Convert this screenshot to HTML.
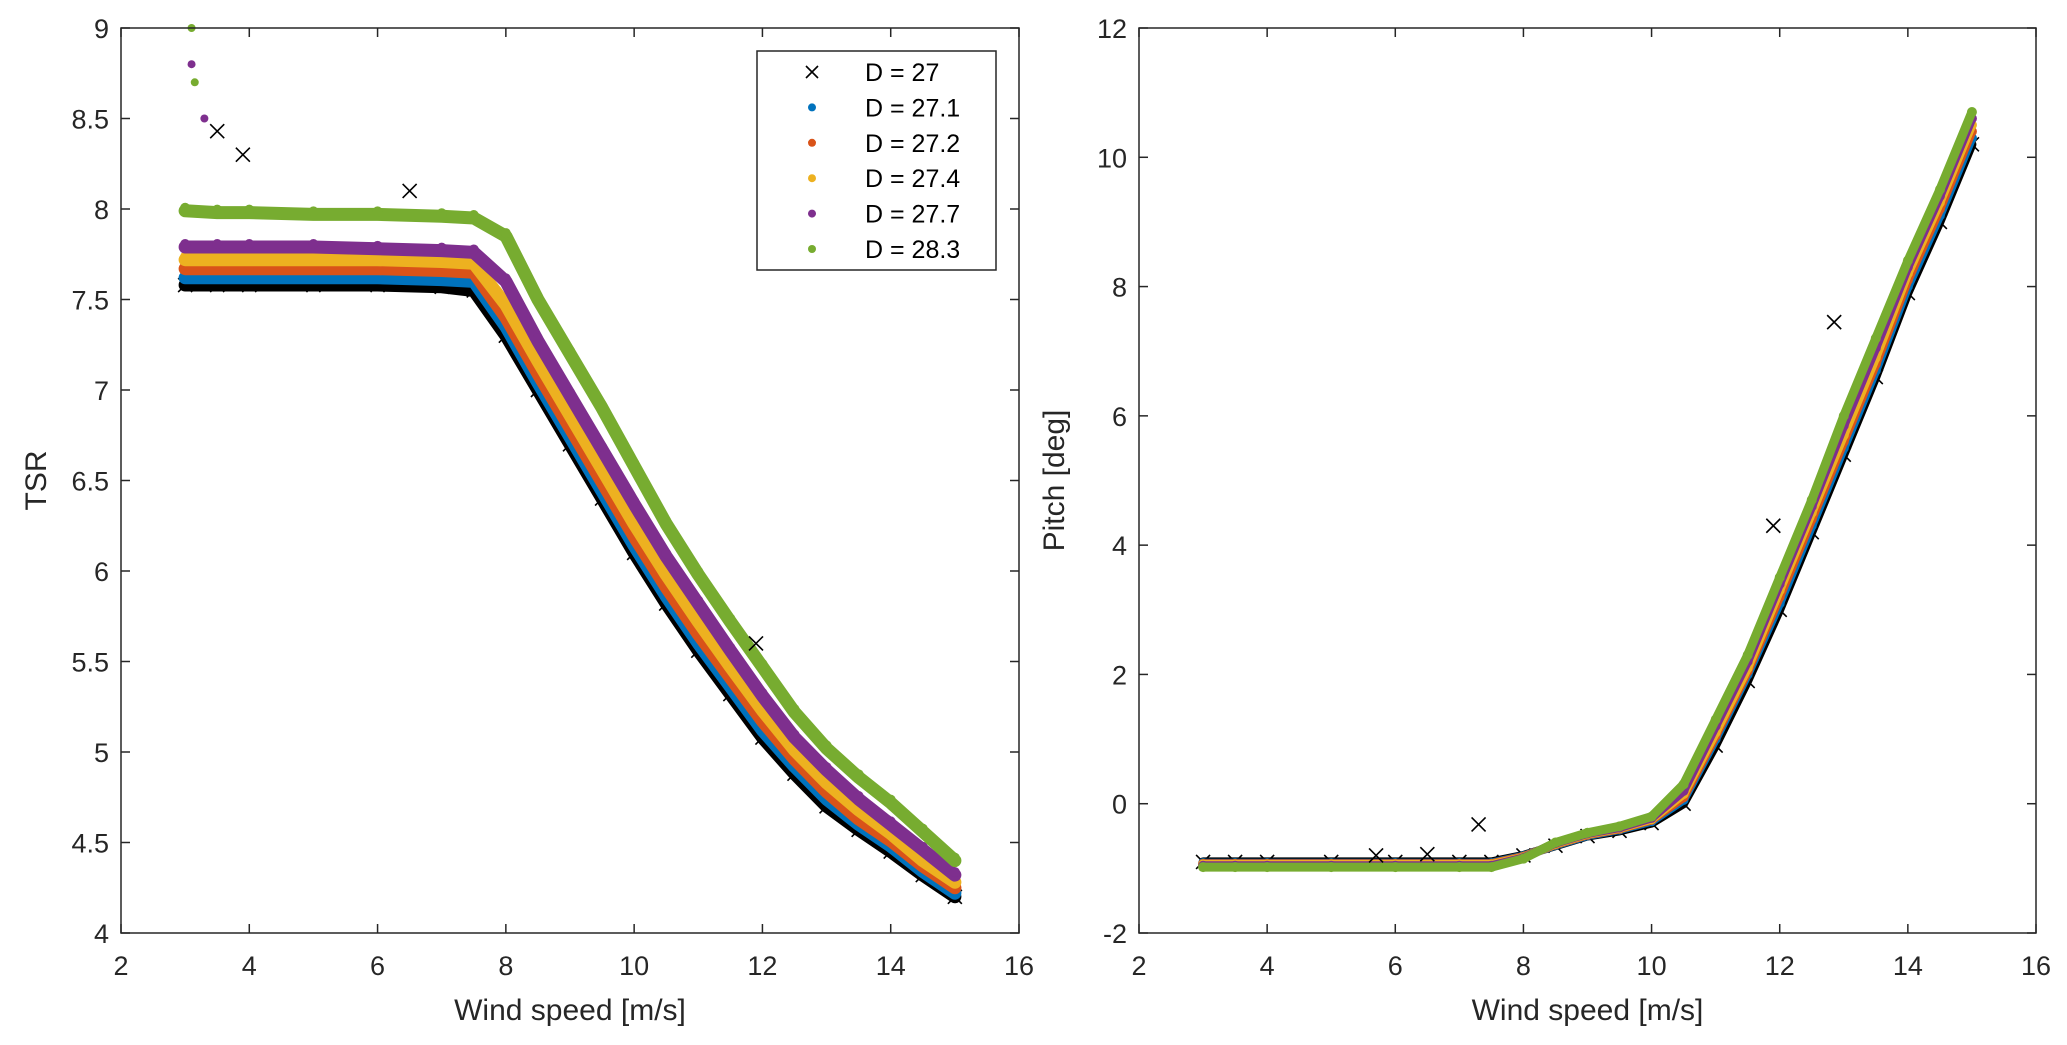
<!DOCTYPE html>
<html><head><meta charset="utf-8"><style>
body{margin:0;background:#fff;}
svg{display:block;font-family:"Liberation Sans",sans-serif;}
</style></head><body>
<svg id="fig" width="2067" height="1045" xmlns="http://www.w3.org/2000/svg"></svg>
<script>
const windGrid=[3,3.5,4,5,6,7,7.5,8,8.5,9,9.5,10,10.5,11,11.5,12,12.5,13,13.5,14,14.5,15];
const seriesNames=["D = 27","D = 27.1","D = 27.2","D = 27.4","D = 27.7","D = 28.3"];
const seriesColors=["#000000","#0072BD","#D95319","#EDB120","#7E2F8E","#77AC30"];
const tsr27=[7.58,7.58,7.58,7.58,7.58,7.57,7.55,7.3,7.0,6.7,6.4,6.1,5.82,5.56,5.32,5.08,4.88,4.7,4.57,4.45,4.32,4.2];
const tsr271=[7.62,7.62,7.62,7.62,7.62,7.61,7.6,7.35,7.04,6.74,6.44,6.14,5.86,5.6,5.36,5.12,4.92,4.74,4.6,4.48,4.34,4.22];
const tsr272=[7.67,7.67,7.67,7.67,7.67,7.66,7.65,7.4,7.09,6.79,6.49,6.19,5.91,5.65,5.41,5.17,4.96,4.78,4.63,4.51,4.37,4.25];
const tsr274=[7.72,7.72,7.72,7.72,7.72,7.71,7.7,7.47,7.16,6.86,6.56,6.26,5.98,5.72,5.47,5.23,5.01,4.83,4.68,4.55,4.4,4.28];
const tsr277=[7.79,7.79,7.79,7.79,7.78,7.77,7.76,7.6,7.27,6.97,6.67,6.37,6.08,5.82,5.56,5.31,5.08,4.9,4.74,4.6,4.46,4.32];
const tsr283=[7.99,7.98,7.98,7.97,7.97,7.96,7.95,7.85,7.5,7.2,6.9,6.58,6.26,5.98,5.72,5.47,5.22,5.02,4.86,4.72,4.56,4.4];
const pitch27=[-0.9,-0.9,-0.9,-0.9,-0.9,-0.9,-0.9,-0.8,-0.65,-0.5,-0.42,-0.3,0.0,0.9,1.9,3.0,4.2,5.4,6.6,7.9,9.0,10.2];
const pitch271=[-0.92,-0.92,-0.92,-0.92,-0.92,-0.92,-0.92,-0.81,-0.64,-0.49,-0.4,-0.27,0.06,1.0,2.0,3.1,4.3,5.5,6.7,8.0,9.1,10.3];
const pitch272=[-0.93,-0.93,-0.93,-0.93,-0.93,-0.93,-0.93,-0.82,-0.63,-0.48,-0.39,-0.25,0.1,1.05,2.05,3.2,4.4,5.6,6.8,8.1,9.2,10.4];
const pitch274=[-0.94,-0.94,-0.94,-0.94,-0.94,-0.94,-0.94,-0.83,-0.62,-0.47,-0.38,-0.24,0.15,1.1,2.1,3.3,4.5,5.7,6.9,8.2,9.3,10.5];
const pitch277=[-0.96,-0.96,-0.96,-0.96,-0.96,-0.96,-0.96,-0.84,-0.61,-0.46,-0.37,-0.22,0.2,1.2,2.2,3.4,4.6,5.85,7.05,8.3,9.4,10.6];
const pitch283=[-0.98,-0.98,-0.98,-0.98,-0.98,-0.98,-0.98,-0.85,-0.6,-0.45,-0.35,-0.2,0.3,1.3,2.3,3.5,4.7,6.0,7.2,8.4,9.5,10.7];
const tsrSeries=[tsr27,tsr271,tsr272,tsr274,tsr277,tsr283];
const pitchSeries=[pitch27,pitch271,pitch272,pitch274,pitch277,pitch283];
const outlierWindL=[3.5,3.9,6.5,11.9,3.1,3.1,3.15,3.3];
const outlierTsrL=[8.43,8.3,8.1,5.6,9.0,8.8,8.7,8.5];
const outlierWindR=[7.3,12.85,11.9,6.5,5.7];
const outlierPitchR=[-0.32,7.45,4.3,-0.78,-0.8];
const xTicks=[2,4,6,8,10,12,14,16];
const yTicksL=[4,4.5,5,5.5,6,6.5,7,7.5,8,8.5,9];
const yTicksR=[-2,0,2,4,6,8,10,12];

const NS="http://www.w3.org/2000/svg";
const svg=document.getElementById('fig');
function el(tag,attrs,parent){const e=document.createElementNS(NS,tag);for(const k in attrs)e.setAttribute(k,attrs[k]);(parent||svg).appendChild(e);return e;}
const TOP=28,BOT=933;
const panels=[
 {x0:121,x1:1019,ymin:4,ymax:9,yt:yTicksL,data:tsrSeries,ow:outlierWindL,ov:outlierTsrL,ylabel:"TSR",name:"tsr-panel",band:13},
 {x0:1139,x1:2036,ymin:-2,ymax:12,yt:yTicksR,data:pitchSeries,ow:outlierWindR,ov:outlierPitchR,ylabel:"Pitch [deg]",name:"pitch-panel",band:9}
];
panels.forEach((p,pi)=>{
 const g=el('g',{});
 
 
 const sx=v=>p.x0+(v-2)/14*(p.x1-p.x0);
 const sy=v=>BOT-(v-p.ymin)/(p.ymax-p.ymin)*(BOT-TOP);
 p.data.forEach((vals,si)=>{
  const sg=el('g',{},g);
  
  
  const pts=windGrid.map((w,i)=>sx(w).toFixed(1)+','+sy(vals[i]).toFixed(1)).join(' ');
  const pl=el('polyline',{points:pts,fill:'none',stroke:seriesColors[si],'stroke-width':p.band,'stroke-linejoin':'round','stroke-linecap':'round'},sg);
  
  
  windGrid.forEach((w,i)=>{
   const cx=sx(w),cy=sy(vals[i]);
   if(si===0){
    const m=el('path',{d:`M${cx-7},${cy-7}L${cx+7},${cy+7}M${cx-7},${cy+7}L${cx+7},${cy-7}`,stroke:'#000','stroke-width':1.6},sg);
    
    
   } else {
    const c=el('circle',{cx:cx,cy:cy+(pi===0?-3:0),r:5,fill:seriesColors[si]},sg);
    
    
   }
  });
 });
 p.ow.forEach((w,i)=>{
  const cx=sx(w),cy=sy(p.ov[i]);
  if(pi===0&&i>=4){
   const c=el('circle',{cx:cx,cy:cy,r:4,fill:seriesColors[5-(i%2)]},g);
   
   
  } else {
   const m=el('path',{d:`M${cx-7},${cy-7}L${cx+7},${cy+7}M${cx-7},${cy+7}L${cx+7},${cy-7}`,stroke:'#000','stroke-width':1.6},g);
   
   
  }
 });
 const box=el('rect',{x:p.x0,y:TOP,width:p.x1-p.x0,height:BOT-TOP,fill:'none',stroke:'#262626','stroke-width':1.5},g);
 
 
 xTicks.forEach(t=>{
  const x=sx(t);
  el('line',{x1:x,x2:x,y1:BOT,y2:BOT-9,stroke:'#262626','stroke-width':1.5},g);
  el('line',{x1:x,x2:x,y1:TOP,y2:TOP+9,stroke:'#262626','stroke-width':1.5},g);
  const tx=el('text',{x:x,y:BOT+42,'font-size':27,'text-anchor':'middle',fill:'#262626'},g);
  tx.textContent=t;
  
  
 });
 p.yt.forEach(t=>{
  const y=sy(t);
  el('line',{x1:p.x0,x2:p.x0+9,y1:y,y2:y,stroke:'#262626','stroke-width':1.5},g);
  el('line',{x1:p.x1,x2:p.x1-9,y1:y,y2:y,stroke:'#262626','stroke-width':1.5},g);
  const tx=el('text',{x:p.x0-12,y:y+10,'font-size':27,'text-anchor':'end',fill:'#262626'},g);
  tx.textContent=t;
  
  
 });
 const xl=el('text',{x:(p.x0+p.x1)/2,y:BOT+87,'font-size':30,'text-anchor':'middle',fill:'#262626'},g);
 xl.textContent='Wind speed [m/s]';
 
 
 const yx=p.x0-75,yy=(TOP+BOT)/2;
 const yl=el('text',{x:yx,y:yy,'font-size':30,'text-anchor':'middle',fill:'#262626',transform:`rotate(-90 ${yx} ${yy})`},g);
 yl.textContent=p.ylabel;
 
 
});
const lg=el('g',{});


el('rect',{x:757,y:51,width:239,height:219,fill:'#fff',stroke:'#262626','stroke-width':1.5},lg);
seriesNames.forEach((n,i)=>{
 const y=72+i*35.4;
 const eg=el('g',{},lg);
 
 
 if(i===0){el('path',{d:`M806,${y-6}L818,${y+6}M806,${y+6}L818,${y-6}`,stroke:'#000','stroke-width':1.6},eg);}
 else el('circle',{cx:812,cy:y,r:4,fill:seriesColors[i]},eg);
 const t=el('text',{x:865,y:y+9,'font-size':25,fill:'#000'},eg);
 t.textContent=n;
});
</script>
</body></html>
